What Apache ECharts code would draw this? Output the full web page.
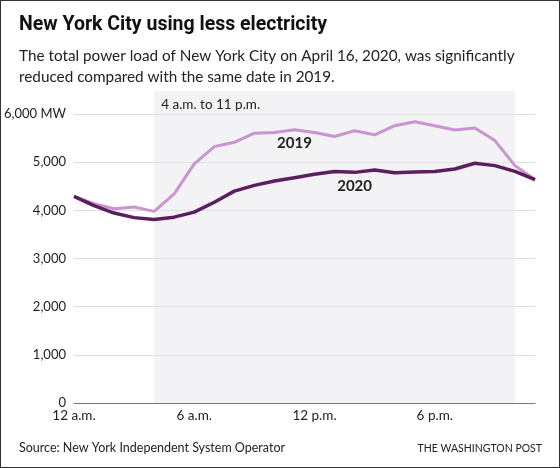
<!DOCTYPE html><html><head><meta charset="utf-8">
<script src="https://cdn.jsdelivr.net/npm/echarts@6/dist/echarts.min.js"></script>
<style>body{margin:0}#c{width:558px;height:466px;border:1px solid #333}</style></head><body><div id="c"></div>
<script>
const hours=['12 a.m.','1','2','3','4','5','6 a.m.','7','8','9','10','11','12 p.m.','13','14','15','16','17','6 p.m.','19','20','21','22','23'];
const load2019=[4290,4140,4035,4070,3980,4345,4965,5325,5415,5605,5620,5675,5620,5535,5655,5570,5760,5840,5760,5670,5710,5450,4930,4640];
const load2020=[4290,4100,3945,3850,3810,3860,3965,4170,4400,4520,4610,4680,4750,4810,4790,4840,4780,4800,4810,4860,4980,4930,4810,4640];
const tickIdx=[0,6,12,18];
const f='Lato, "Open Sans", sans-serif';
const ch=echarts.init(document.getElementById('c'));
ch.setOption({
animation:false,
title:[{text:'New York City using less electricity',left:13,top:9,textStyle:{fontFamily:'Roboto, sans-serif',fontSize:19.5,fontWeight:'bold',color:'#111'}},
{text:'The total power load of New York City on April 16, 2020, was significantly\nreduced compared with the same date in 2019.',left:13,top:40,textStyle:{fontFamily:f,fontSize:15.3,fontWeight:'normal',color:'#222',lineHeight:21}},
{text:'Source: New York Independent System Operator',left:13,top:435,textStyle:{fontFamily:f,fontSize:12.5,fontWeight:'normal',color:'#222'}},
{text:'THE WASHINGTON POST',right:12,top:437,textStyle:{fontFamily:f,fontSize:10.5,fontWeight:'normal',color:'#222'}}],
grid:{left:66,right:24,top:90,bottom:64},
xAxis:{type:'category',data:hours,boundaryGap:false,
axisLine:{lineStyle:{color:'#777'}},axisTick:{show:false},
axisLabel:{interval:(i)=>tickIdx.includes(i),fontFamily:f,fontSize:13.5,color:'#222',margin:6}},
yAxis:{type:'value',min:0,max:6480,interval:1000,
axisLabel:{showMaxLabel:false,fontFamily:f,fontSize:13,color:'#222',margin:8,
formatter:v=>v%1000?'':(v===6000?'6,000 MW':v.toLocaleString('en-US'))},
splitLine:{showMaxLine:false,lineStyle:{color:'#ddd'}}},
series:[
{name:'2019',type:'line',data:load2019,symbol:'none',lineStyle:{width:3,color:'#c994cf'},z:3,
markArea:{silent:true,itemStyle:{color:'rgba(232,232,236,0.5)'},
label:{position:'insideTopLeft',offset:[2,2],fontFamily:f,fontSize:13.5,color:'#222'},
data:[[{name:'4 a.m. to 11 p.m.',xAxis:'4',yAxis:0},{xAxis:'22',yAxis:6480}]]},
markPoint:{symbol:'circle',symbolSize:0,label:{show:true,formatter:'2019',fontFamily:f,fontSize:15,fontWeight:'bold',color:'#222'},data:[{coord:['11',5400]}]}},
{name:'2020',type:'line',data:load2020,symbol:'none',lineStyle:{width:3.5,color:'#5b1f60'},z:4,
markPoint:{symbol:'circle',symbolSize:0,label:{show:true,formatter:'2020',fontFamily:f,fontSize:15,fontWeight:'bold',color:'#222'},data:[{coord:['14',4510]}]}}
]});
</script></body></html>
